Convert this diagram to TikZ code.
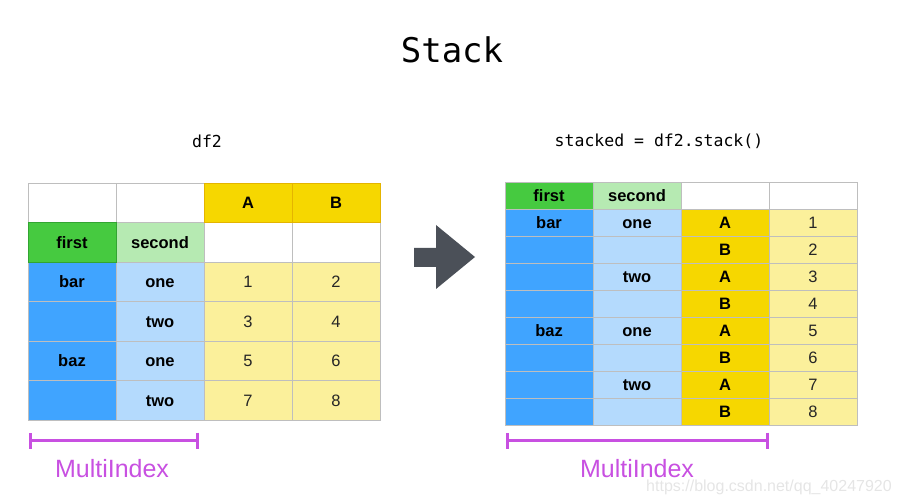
\documentclass[tikz,border=0pt]{standalone}
\usepackage{fontspec}
\setmainfont{Liberation Sans}
\setmonofont{DejaVu Sans Mono}
\usetikzlibrary{arrows.meta}

\definecolor{gridgray}{RGB}{190,190,190}
\definecolor{firstgreen}{RGB}{70,202,64}
\definecolor{firstedge}{RGB}{50,165,50}
\definecolor{secondgreen}{RGB}{182,234,178}
\definecolor{idxblue}{RGB}{64,164,255}
\definecolor{subblue}{RGB}{180,218,253}
\definecolor{colgold}{RGB}{246,215,0}
\definecolor{goldedge}{RGB}{228,180,0}
\definecolor{valyellow}{RGB}{251,240,155}
\definecolor{idxpurple}{RGB}{200,80,225}
\definecolor{arrowgray}{RGB}{75,80,88}

\tikzset{
  cell/.style={draw=gridgray, line width=0.8pt, minimum width=88pt, inner sep=0pt,
    text height=11.8pt, text depth=0pt,
    font=\fontsize{16.5}{16.5}\selectfont\bfseries},
  tall/.style={cell, minimum height=39.5pt},
  flat/.style={cell, minimum height=27pt},
  blank/.style={fill=white},
  lvlone/.style={fill=firstgreen},
  lvltwo/.style={fill=secondgreen},
  idx/.style={fill=idxblue},
  sub/.style={fill=subblue},
  colname/.style={fill=colgold},
  val/.style={fill=valyellow, font=\fontsize{16.5}{16.5}\selectfont, text=black!85},
  code/.style={font=\fontsize{16.5}{16.5}\selectfont\ttfamily},
  brace/.style={idxpurple, line width=3pt, {Bar[width=16pt]}-{Bar[width=16pt]}},
  braceText/.style={text=idxpurple, inner sep=0pt, font=\fontsize{25}{25}\selectfont}
}

\begin{document}
\begin{tikzpicture}[x=1pt, y=-1pt]
\useasboundingbox (0,0) rectangle (901,502);

\node[font=\fontsize{34}{34}\selectfont\ttfamily] (title) at (452,50) {Stack};
\node[code] (lname) at (207,141) {df2};
\node[code] (rname) at (659,141) {stacked = df2.stack()};

% df2
\node[tall, blank] (L-1-1) at (72,202.75) {};
\node[tall, blank] (L-1-2) at (160,202.75) {};
\node[tall, blank] (L-2-3) at (248,242.25) {};
\node[tall, blank] (L-2-4) at (336,242.25) {};
\node[tall, lvltwo] (L-2-2) at (160,242.25) {second};
\node[tall, idx] (L-3-1) at (72,281.75) {bar};
\node[tall, idx] (L-4-1) at (72,321.25) {};
\node[tall, idx] (L-5-1) at (72,360.75) {baz};
\node[tall, idx] (L-6-1) at (72,400.25) {};
\node[tall, sub] (L-3-2) at (160,281.75) {one};
\node[tall, sub] (L-4-2) at (160,321.25) {two};
\node[tall, sub] (L-5-2) at (160,360.75) {one};
\node[tall, sub] (L-6-2) at (160,400.25) {two};
\node[tall, val] (L-3-3) at (248,281.75) {1};
\node[tall, val] (L-3-4) at (336,281.75) {2};
\node[tall, val] (L-4-3) at (248,321.25) {3};
\node[tall, val] (L-4-4) at (336,321.25) {4};
\node[tall, val] (L-5-3) at (248,360.75) {5};
\node[tall, val] (L-5-4) at (336,360.75) {6};
\node[tall, val] (L-6-3) at (248,400.25) {7};
\node[tall, val] (L-6-4) at (336,400.25) {8};
\node[tall, lvlone, draw=firstedge] (L-2-1) at (72,242.25) {first};
\node[tall, colname, draw=goldedge] (L-1-3) at (248,202.75) {A};
\node[tall, colname, draw=goldedge] (L-1-4) at (336,202.75) {B};

% arrow
\fill[arrowgray] (414,248) -- (436,248) -- (436,225) -- (475,257)
  -- (436,289) -- (436,267) -- (414,267) -- cycle;

% stacked
\node[flat, lvlone] (R-0-1) at (549,195.5) {first};
\node[flat, lvltwo] (R-0-2) at (637,195.5) {second};
\node[flat, blank] (R-0-3) at (725,195.5) {};
\node[flat, blank] (R-0-4) at (813,195.5) {};
\node[flat, idx] (R-1-1) at (549,222.5) {bar};
\node[flat, idx] (R-2-1) at (549,249.5) {};
\node[flat, idx] (R-3-1) at (549,276.5) {};
\node[flat, idx] (R-4-1) at (549,303.5) {};
\node[flat, idx] (R-5-1) at (549,330.5) {baz};
\node[flat, idx] (R-6-1) at (549,357.5) {};
\node[flat, idx] (R-7-1) at (549,384.5) {};
\node[flat, idx] (R-8-1) at (549,411.5) {};
\node[flat, sub] (R-1-2) at (637,222.5) {one};
\node[flat, sub] (R-2-2) at (637,249.5) {};
\node[flat, sub] (R-3-2) at (637,276.5) {two};
\node[flat, sub] (R-4-2) at (637,303.5) {};
\node[flat, sub] (R-5-2) at (637,330.5) {one};
\node[flat, sub] (R-6-2) at (637,357.5) {};
\node[flat, sub] (R-7-2) at (637,384.5) {two};
\node[flat, sub] (R-8-2) at (637,411.5) {};
\node[flat, colname] (R-1-3) at (725,222.5) {A};
\node[flat, colname] (R-2-3) at (725,249.5) {B};
\node[flat, colname] (R-3-3) at (725,276.5) {A};
\node[flat, colname] (R-4-3) at (725,303.5) {B};
\node[flat, colname] (R-5-3) at (725,330.5) {A};
\node[flat, colname] (R-6-3) at (725,357.5) {B};
\node[flat, colname] (R-7-3) at (725,384.5) {A};
\node[flat, colname] (R-8-3) at (725,411.5) {B};
\node[flat, val] (R-1-4) at (813,222.5) {1};
\node[flat, val] (R-2-4) at (813,249.5) {2};
\node[flat, val] (R-3-4) at (813,276.5) {3};
\node[flat, val] (R-4-4) at (813,303.5) {4};
\node[flat, val] (R-5-4) at (813,330.5) {5};
\node[flat, val] (R-6-4) at (813,357.5) {6};
\node[flat, val] (R-7-4) at (813,384.5) {7};
\node[flat, val] (R-8-4) at (813,411.5) {8};

% MultiIndex marks
\coordinate (lb1) at (29,440.5);
\coordinate (lb2) at (199,440.5);
\coordinate (rb1) at (506,440.5);
\coordinate (rb2) at (769,440.5);
\draw[brace] (lb1) -- (lb2);
\draw[brace] (rb1) -- (rb2);
\node[braceText] (lmulti) at (112,469) {MultiIndex};
\node[braceText] (rmulti) at (637,469) {MultiIndex};

\node[text=black!10, inner sep=0pt, font=\fontsize{16}{16}\selectfont] (mark) at (769,487) {https://blog.csdn.net/qq\_40247920};
\end{tikzpicture}
\end{document}
